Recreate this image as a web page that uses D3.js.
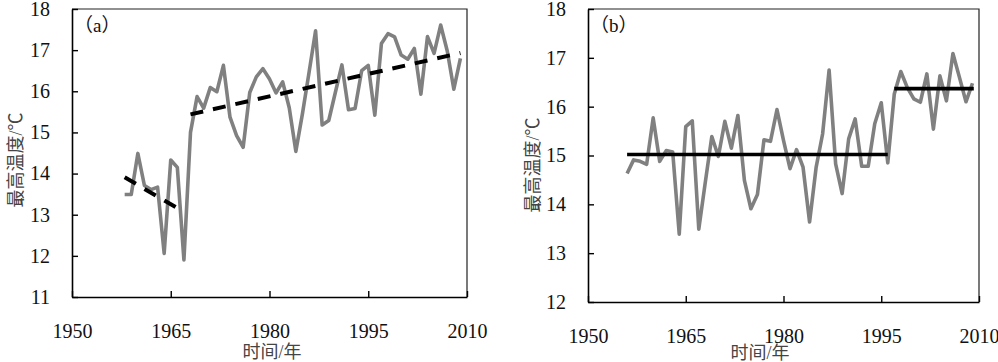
<!DOCTYPE html>
<html>
<head>
<meta charset="utf-8">
<script src="https://cdn.jsdelivr.net/npm/d3@7"></script>
<style>
  body { margin: 0; background: #fff; }
  svg { display: block; }
</style>
</head>
<body>
<svg id="chart" width="998" height="362"></svg>
<script>
// years and values
const yearsA = [1958, 1959, 1960, 1961, 1962, 1963, 1964, 1965, 1966, 1967, 1968, 1969, 1970,
  1971, 1972, 1973, 1974, 1975, 1976, 1977, 1978, 1979, 1980, 1981, 1982, 1983, 1984, 1985,
  1986, 1987, 1988, 1989, 1990, 1991, 1992, 1993, 1994, 1995, 1996, 1997, 1998, 1999, 2000,
  2001, 2002, 2003, 2004, 2005, 2006, 2007, 2008, 2009];
const tempA = [13.49, 13.49, 14.49, 13.71, 13.61, 13.67, 12.06, 14.33, 14.15, 11.90, 15.0, 15.87,
  15.59, 16.09, 15.99, 16.63, 15.37, 14.92, 14.64, 15.97, 16.35, 16.55, 16.30, 15.96, 16.23,
  15.6, 14.54, 15.45, 16.45, 17.47, 15.18, 15.29, 15.97, 16.64, 15.55, 15.58, 16.5, 16.63,
  15.42, 17.16, 17.40, 17.32, 16.88, 16.78, 17.04, 15.93, 17.33, 16.92, 17.61, 16.98, 16.05,
  16.80];
const trendA1 = [[1958, 13.91], [1966, 13.16]];
const trendA2 = [[1968, 15.44], [2009, 16.93]];

const yearsB = [1956, 1957, 1958, 1959, 1960, 1961, 1962, 1963, 1964, 1965, 1966, 1967, 1968,
  1969, 1970, 1971, 1972, 1973, 1974, 1975, 1976, 1977, 1978, 1979, 1980, 1981, 1982, 1983,
  1984, 1985, 1986, 1987, 1988, 1989, 1990, 1991, 1992, 1993, 1994, 1995, 1996, 1997, 1998,
  1999, 2000, 2001, 2002, 2003, 2004, 2005, 2006, 2007, 2008, 2009];
const tempB = [14.63, 14.91, 14.88, 14.82, 15.77, 14.88, 15.10, 15.07, 13.39, 15.59, 15.71,
  13.49, 14.45, 15.39, 14.98, 15.70, 15.15, 15.82, 14.49, 13.91, 14.2, 15.32, 15.29, 15.94,
  15.31, 14.73, 15.12, 14.76, 13.64, 14.75, 15.44, 16.75, 14.83, 14.22, 15.34, 15.75, 14.78,
  14.78, 15.65, 16.08, 14.85, 16.26, 16.72, 16.39, 16.16, 16.09, 16.67, 15.54, 16.63, 16.12,
  17.09, 16.6, 16.1, 16.48];
const meanB1 = [[1956, 15.02], [1996, 15.02]];
const meanB2 = [[1997, 16.37], [2009.2, 16.37]];

const xTicks = [1950, 1965, 1980, 1995, 2010];
const yTicksA = [11, 12, 13, 14, 15, 16, 17, 18];
const yTicksB = [12, 13, 14, 15, 16, 17, 18];

const svg = d3.select("#chart");
const numFont = '"Liberation Serif"';
const cjkFont = '"Liberation Serif", "Noto Sans CJK SC"';

function panel(svg, box, years, temps, fits, yTicks, label, dashed) {
    var x = d3.scaleLinear().domain([1950, 2010]).range([box.left, box.right]);
    var y = d3.scaleLinear().domain([yTicks[0], yTicks[yTicks.length - 1]]).range([box.bottom, box.top]);

    var g = svg.append("g");

    // frame: top and right sides
    g.append("path")
        .attr("d", `M${box.left},${box.top}H${box.right}V${box.bottom}`)
        .attr("fill", "none")
        .attr("stroke", "#222")
        .attr("stroke-width", 1.2);

    var xAxis = g.append("g")
        .attr("transform", `translate(0,${box.bottom})`)
        .call(d3.axisBottom(x).tickValues(xTicks).tickFormat(d3.format("d"))
            .tickSizeInner(-6).tickSizeOuter(0).tickPadding(27));

    var yAxis = g.append("g")
        .attr("transform", `translate(${box.left},0)`)
        .call(d3.axisLeft(y).tickValues(yTicks).tickFormat(d3.format("d"))
            .tickSizeInner(-6).tickSizeOuter(0).tickPadding(22));

    [xAxis, yAxis].forEach(a => {
        a.select(".domain").attr("stroke", "#000").attr("stroke-width", 1.6);
        a.selectAll(".tick line").attr("stroke", "#000").attr("stroke-width", 1.4);
        a.selectAll(".tick text")
            .style("font-family", numFont)
            .style("font-size", "20px")
            .attr("fill", "#111");
    });

    var line = d3.line().x(d => x(d[0])).y(d => y(d[1]));

    g.append("path")
        .datum(years.map((yr, i) => [yr, temps[i]]))
        .attr("d", line)
        .attr("fill", "none")
        .attr("stroke", "#808080")
        .attr("stroke-width", 3.6)
        .attr("stroke-linejoin", "round");

    fits.forEach(f => {
        g.append("path")
            .datum(f)
            .attr("d", line)
            .attr("fill", "none")
            .attr("stroke", "#000")
            .attr("stroke-width", dashed ? 4 : 3.6)
            .attr("stroke-dasharray", dashed ? "13,10" : null);
    });

    g.append("text")
        .attr("x", box.left + 2)
        .attr("y", box.top + 23)
        .style("font-family", cjkFont)
        .style("font-size", "19px")
        .attr("fill", "#111")
        .text(label);

    g.append("text")
        .attr("transform", `translate(${box.yTitleX},${box.yTitleY}) rotate(-90)`)
        .attr("text-anchor", "middle")
        .style("font-family", cjkFont)
        .style("font-size", "18px")
        .attr("fill", "#444")
        .text("最高温度/℃");

    g.append("text")
        .attr("x", box.xTitleX)
        .attr("y", box.xTitleY)
        .attr("text-anchor", "middle")
        .style("font-family", cjkFont)
        .style("font-size", "18px")
        .attr("fill", "#444")
        .text("时间/年");
}

panel(svg, { left: 72, right: 467, top: 9, bottom: 297, yTitleX: 22, yTitleY: 160, xTitleX: 272, xTitleY: 358 },
    yearsA, tempA, [trendA1, trendA2], yTicksA, "（a）", true);

panel(svg, { left: 588, right: 979, top: 9, bottom: 302, yTitleX: 539, yTitleY: 165, xTitleX: 760, xTitleY: 359 },
    yearsB, tempB, [meanB1, meanB2], yTicksB, "（b）", false);
</script>
</body>
</html>
